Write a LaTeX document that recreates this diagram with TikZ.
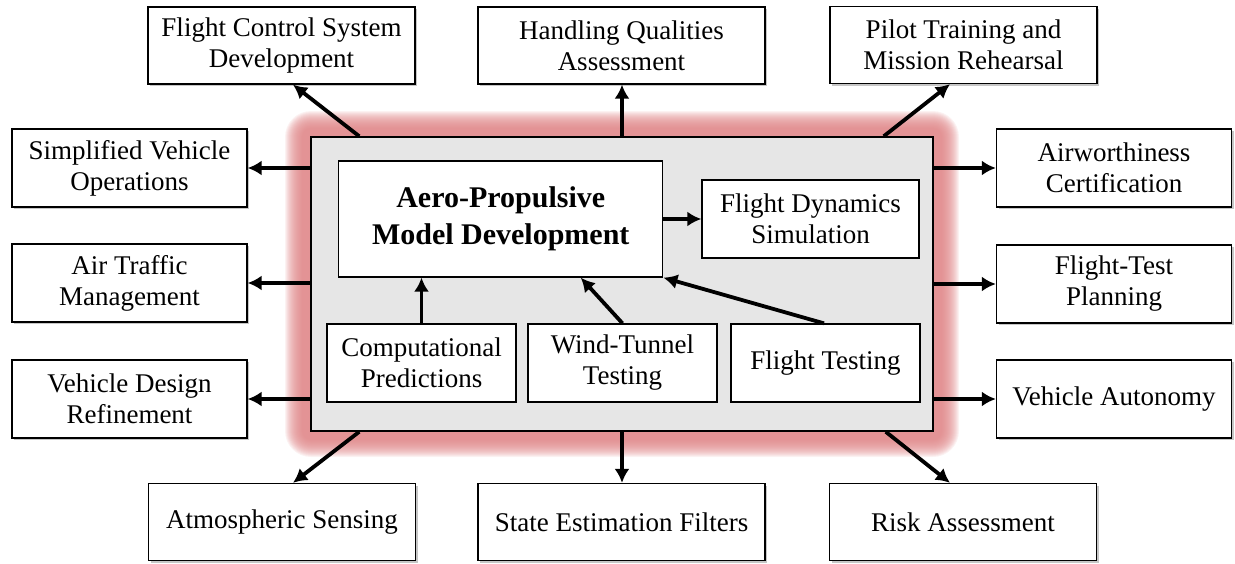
\documentclass[tikz,border=0pt]{standalone}
\usepackage{fontspec}
\setmainfont{Liberation Serif}
\usetikzlibrary{arrows.meta,shadows,calc}
\definecolor{glowc}{RGB}{222,129,131}
\definecolor{panel}{RGB}{230,230,230}
\begin{document}
\begin{tikzpicture}[x=1pt,y=-1pt,
  box/.style={draw, line width=1.3pt, fill=white, align=center, inner sep=0pt,
    font=\fontsize{27}{31}\selectfont},
  obox/.style={box, drop shadow={shadow xshift=2pt,shadow yshift=-2pt,opacity=0.45}},
  sidebox/.style={obox, minimum width=235pt, minimum height=78pt},
  topbox/.style={obox, minimum height=77pt},
  ibox/.style={box, minimum height=78pt},
  arr/.style={line width=3.8pt, -{Latex[length=14pt,width=15pt]}},
]
\useasboundingbox (0,0) rectangle (1235,563);
% glow
\foreach \d in {26,25,...,9}{
  \fill[glowc, opacity=0.1, rounded corners={\d pt}] ({311-\d},{137-\d}) rectangle ({933+\d},{431+\d});
}
% central panel
\node[draw, line width=1.5pt, fill=panel, minimum width=622pt, minimum height=294pt, inner sep=0pt] (gray) at (622,284) {};
% inner nodes
\node[box, minimum width=324pt, minimum height=116pt, font=\bfseries\fontsize{30}{37}\selectfont] (aero) at (500.75,219) {Aero-Propulsive\\Model Development};
\node[ibox, minimum width=217pt] (fds) at (810.5,219) {Flight Dynamics\\Simulation};
\node[ibox, minimum width=189pt] (comp) at (421.5,363) {Computational\\Predictions};
\node[ibox, minimum width=189pt] (wind) at (622.5,363) {Wind-Tunnel\\Testing};
\node[ibox, minimum width=189pt] (ft) at (825.5,363) {Flight Testing};
% outer top/bottom
\node[topbox, minimum width=267pt] (fcs) at (281.5,45.5) {Flight Control System\\Development};
\node[topbox, minimum width=287pt] (hq) at (621.5,45.5) {Handling Qualities\\Assessment};
\node[topbox, minimum width=267pt] (pilot) at (963.5,45) {Pilot Training and\\Mission Rehearsal};
\node[topbox, minimum width=267pt] (atm) at (282,522) {Atmospheric Sensing};
\node[topbox, minimum width=287pt] (sef) at (621.5,522) {State Estimation Filters};
\node[topbox, minimum width=267pt] (risk) at (963,522) {Risk Assessment};
% left column
\node[sidebox] (svo) at (129.5,168) {Simplified Vehicle\\Operations};
\node[sidebox] (atmg) at (129.5,283) {Air Traffic\\Management};
\node[sidebox] (vdr) at (129.5,399) {Vehicle Design\\Refinement};
% right column
\node[sidebox] (aw) at (1114,168) {Airworthiness\\Certification};
\node[sidebox] (ftp) at (1114,284) {Flight-Test\\Planning};
\node[sidebox] (va) at (1114,399) {Vehicle Autonomy};
% start points on the panel
\coordinate (ptl) at ($(gray.north west)+(49pt,0)$);
\coordinate (ptr) at ($(gray.north east)+(-50pt,0)$);
\coordinate (pbl) at ($(gray.south west)+(49pt,0)$);
\coordinate (pbr) at ($(gray.south east)+(-48pt,0)$);
% inner arrows
\draw[arr] (aero.east) -- (fds.west);
\draw[arr] (comp.north) -- (comp.north |- aero.south);
\draw[arr] (wind.north) -- ($(aero.south)+(80pt,0)$);
\draw[arr] ($(ft.north)+(-1.5pt,0)$) -- (aero.south east);
% outer arrows
\draw[arr] (ptl) -- ($(fcs.south)+(11.5pt,0)$);
\draw[arr] (gray.north) -- (gray.north |- hq.south);
\draw[arr] (ptr) -- ($(pilot.south)+(-13.5pt,0)$);
\draw[arr] (pbl) -- ($(atm.north)+(11pt,0)$);
\draw[arr] (gray.south) -- (gray.south |- sef.north);
\draw[arr] (pbr) -- ($(risk.north)+(-13pt,0)$);
\draw[arr] (svo.east -| gray.west) -- (svo.east);
\draw[arr] (atmg.east -| gray.west) -- (atmg.east);
\draw[arr] (vdr.east -| gray.west) -- (vdr.east);
\draw[arr] (aw.west -| gray.east) -- (aw.west);
\draw[arr] (ftp.west -| gray.east) -- (ftp.west);
\draw[arr] (va.west -| gray.east) -- (va.west);
\end{tikzpicture}
\end{document}
